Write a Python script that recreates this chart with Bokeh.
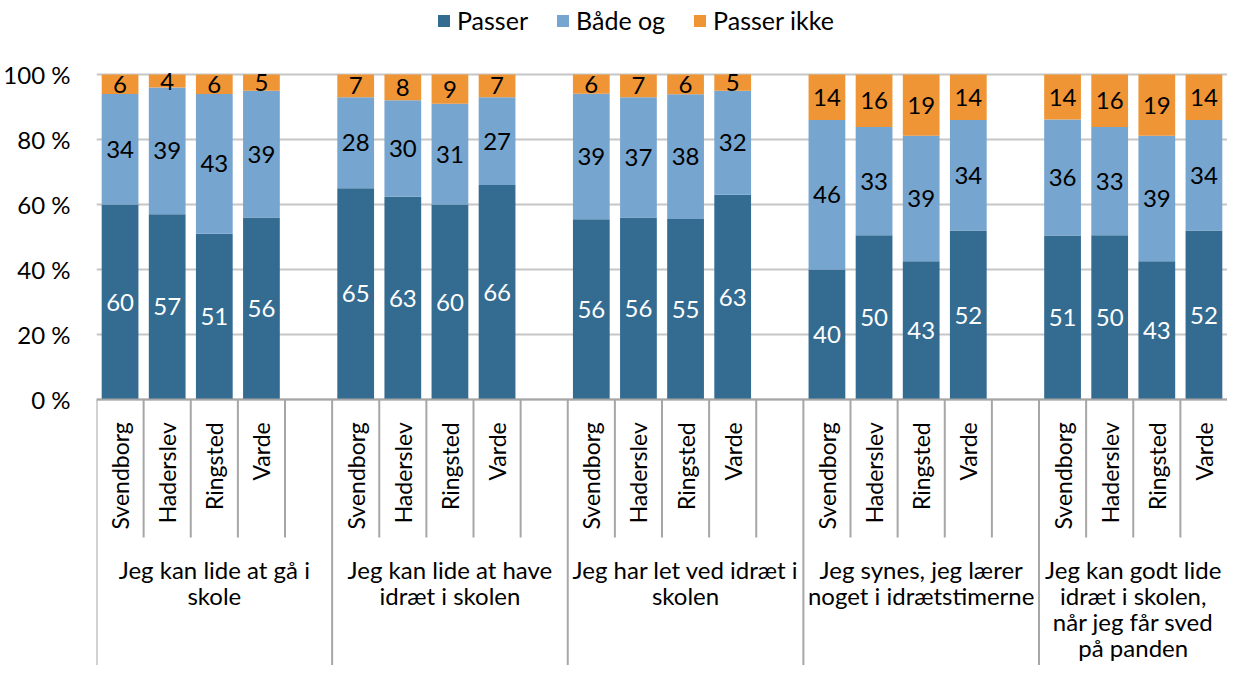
import math
from bokeh.plotting import figure
from bokeh.models import Range1d, FixedTicker, Legend, LegendItem, Span, ColumnDataSource
from bokeh.core.properties import value
from bokeh.embed import file_html
from bokeh.resources import INLINE

# ---- data ----
groups = [
    "Jeg kan lide at gå i\nskole",
    "Jeg kan lide at have\nidræt i skolen",
    "Jeg har let ved idræt i\nskolen",
    "Jeg synes, jeg lærer\nnoget i idrætstimerne",
    "Jeg kan godt lide\nidræt i skolen,\nnår jeg får sved\npå panden",
]
cities = ["Svendborg", "Haderslev", "Ringsted", "Varde"]
series_names = ["Passer", "Både og", "Passer ikke"]
passer = [60, 57, 51, 56, 65, 63, 60, 66, 56, 56, 55, 63, 40, 50, 43, 52, 51, 50, 43, 52]
bade_og = [34, 39, 43, 39, 28, 30, 31, 27, 39, 37, 38, 32, 46, 33, 39, 34, 36, 33, 39, 34]
passer_ikke = [6, 4, 6, 5, 7, 8, 9, 7, 6, 7, 6, 5, 14, 16, 19, 14, 14, 16, 19, 14]
y_ticks = [0, 20, 40, 60, 80, 100]
y_tick_labels = ["0 %", "20 %", "40 %", "60 %", "80 %", "100 %"]

# ---- styles ----
colors = ["#336b91", "#76a5cf", "#ef9536"]
label_colors = ["white", "black", "black"]
FONT = "Lato"
PX_PER_UNIT = 3.25
W, H = 1227, 665
LEFT = 96
ZERO_Y = 399  # canvas px of the 0 % line
slots_per_group = [len(cities) + 1] * (len(groups) - 1) + [len(cities)]
n_slots = sum(slots_per_group)

y_top = ZERO_Y / PX_PER_UNIT
y_bottom = -(H - ZERO_Y) / PX_PER_UNIT

p = figure(width=W, height=H, x_range=Range1d(0, n_slots), y_range=Range1d(y_bottom, y_top),
           output_backend="svg", toolbar_location=None, x_axis_location=None,
           min_border_left=LEFT, min_border_right=0, min_border_top=0, min_border_bottom=0)
p.outline_line_color = None
p.xgrid.visible = False
p.ygrid.ticker = FixedTicker(ticks=y_ticks)
p.ygrid.grid_line_color = "#c6c6c6"
p.ygrid.grid_line_width = 2
p.yaxis.ticker = FixedTicker(ticks=y_ticks)
p.yaxis.major_label_overrides = {t: l for t, l in zip(y_ticks, y_tick_labels)}
p.yaxis.axis_line_color = None
p.yaxis.major_tick_line_color = None
p.yaxis.minor_tick_line_color = None
p.yaxis.major_tick_out = 0
p.yaxis.major_tick_in = 0
p.yaxis.major_label_standoff = 26
p.yaxis.major_label_text_font = FONT
p.yaxis.major_label_text_font_size = "24px"
p.yaxis.major_label_text_color = "black"

# ---- bar positions ----
xs = []
starts = []
s = 0
for g, n in enumerate(slots_per_group):
    starts.append(s)
    for c in range(len(cities)):
        xs.append(s + c + 0.5)
    s += n

vals = [passer, bade_og, passer_ikke]
totals = [a + b + c for a, b, c in zip(*vals)]
bottom = [0.0] * len(xs)
renderers = []
lab_x, lab_y, lab_t, lab_c = [], [], [], []
for k, (name, v) in enumerate(zip(series_names, vals)):
    frac = [vi / t * 100 for vi, t in zip(v, totals)]
    top = [b + f for b, f in zip(bottom, frac)]
    r = p.vbar(x=xs, bottom=bottom, top=top, width=0.78, fill_color=colors[k], line_color=None)
    renderers.append(r)
    for x, b, t, vi in zip(xs, bottom, top, v):
        lab_x.append(x)
        lab_y.append((b + t) / 2)
        lab_t.append(str(vi))
        lab_c.append(label_colors[k])
    bottom = top

p.text(x="x", y="y", text="t", text_color="c",
       source=ColumnDataSource(dict(x=lab_x, y=lab_y, t=lab_t, c=lab_c)),
       text_align="center", text_baseline="middle",
       text_font=value(FONT), text_font_size="24px")

# ---- category axis drawn below ----
p.add_layout(Span(location=0, dimension="width", line_color="#a6a6a6", line_width=2))
short_end = -138 / PX_PER_UNIT
bx, by1 = [], []
for g, n in enumerate(slots_per_group):
    for j in range(n):
        bx.append(starts[g] + j)
        by1.append(y_bottom if j == 0 else short_end)
p.segment(x0=bx, x1=bx, y0=[0] * len(bx), y1=by1, line_color="#a6a6a6", line_width=2)

city_x, city_t = [], []
for g in range(len(groups)):
    for c, name in enumerate(cities):
        city_x.append(starts[g] + c + 0.5)
        city_t.append(name)
p.text(x=city_x, y=[-7.0] * len(city_x), text=city_t, angle=math.pi / 2,
       text_align="right", text_baseline="middle",
       text_font=value(FONT), text_font_size="23px", text_color="black")

# group labels, one text per line for controlled spacing
FIRST_LINE = -170 / PX_PER_UNIT
LINE_STEP = 26.0 / PX_PER_UNIT
gl_x, gl_y, gl_t = [], [], []
for g, n in enumerate(slots_per_group):
    for i, line in enumerate(groups[g].split("\n")):
        gl_x.append(starts[g] + n / 2)
        gl_y.append(FIRST_LINE - i * LINE_STEP)
        gl_t.append(line)
p.text(x=gl_x, y=gl_y, text=gl_t, text_align="center", text_baseline="middle",
       text_font=value(FONT), text_font_size="24px", text_color="black")

legend = Legend(items=[LegendItem(label=n, renderers=[r]) for n, r in zip(series_names, renderers)],
                orientation="horizontal", location=(340, 630), border_line_color=None,
                background_fill_alpha=0, label_text_font=FONT, label_text_font_size="25px",
                label_text_color="black", glyph_width=15, glyph_height=15, label_standoff=6,
                spacing=27, padding=4, margin=0)
p.add_layout(legend)

open("out.html", "w").write(file_html(p, INLINE))
